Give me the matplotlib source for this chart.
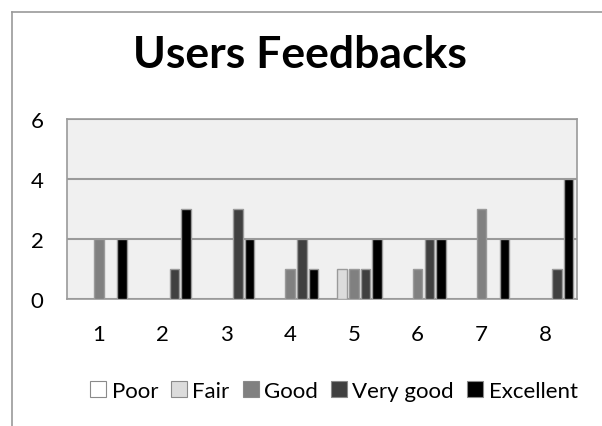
import matplotlib
matplotlib.use("Agg")
import matplotlib.pyplot as plt
import numpy as np
from matplotlib.lines import Line2D

groups = ["1", "2", "3", "4", "5", "6", "7", "8"]
series_names = ["Poor", "Fair", "Good", "Very good", "Excellent"]
poor = [0, 0, 0, 0, 0, 0, 0, 0]
fair = [0, 0, 0, 0, 1, 0, 0, 0]
good = [2, 0, 0, 1, 1, 1, 3, 0]
very_good = [0, 1, 3, 2, 1, 2, 0, 1]
excellent = [2, 3, 2, 1, 2, 2, 2, 4]
colors = ["#FFFFFF", "#DCDCDC", "#808080", "#404040", "#000000"]
yticks = [0, 2, 4, 6]

plt.rcParams['font.family'] = ['Lato', 'DejaVu Sans']

fig = plt.figure(figsize=(6.02, 4.27), dpi=100)
ax = fig.add_axes([67/602, 1-300/427, 510/602, 180/427])
ax.set_facecolor("#F0F0F0")

x = np.arange(1, len(groups) + 1)
pitch = 0.183
width = 0.15
data = [poor, fair, good, very_good, excellent]
for i, (vals, c) in enumerate(zip(data, colors)):
    ax.bar(x + (i - 2) * pitch, vals, width=width, color=c,
           edgecolor="#9A9A9A", linewidth=1.0, zorder=3)

ax.set_xlim(0.5, 8.5)
ax.set_ylim(0, 6)
ax.set_yticks(yticks)
ax.set_yticklabels([str(v) for v in yticks], fontsize=16)
ax.set_xticks(x)
ax.set_xticklabels(groups, fontsize=16)
ax.tick_params(axis='y', length=0, pad=17)
ax.tick_params(axis='x', length=0, pad=18)
ax.yaxis.grid(True, color="#9A9A9A", linewidth=1.5, zorder=0)
ax.set_axisbelow(True)
for s in ax.spines.values():
    s.set_color("#9A9A9A")
    s.set_linewidth(1.2)

fig.text(300/602, 1-55/427, "Users Feedbacks", ha="center", va="center",
         fontsize=32, fontweight="bold")

handles = [plt.Rectangle((0, 0), 1, 1, facecolor=c, edgecolor="#8A8A8A", linewidth=0.8)
           for c in colors]
fig.legend(handles, series_names, loc="center", bbox_to_anchor=(334/602, 1-392/427),
           ncol=5, frameon=False, fontsize=16, handlelength=0.7, handleheight=0.7,
           handletextpad=0.25, columnspacing=0.6, borderpad=0)

# outer chart frame (partially visible: left and top)
fig.add_artist(Line2D([12/602, 12/602], [0, 1-13/427], transform=fig.transFigure,
                      color="#9A9A9A", linewidth=1.2))
fig.add_artist(Line2D([12/602, 1], [1-13/427, 1-13/427], transform=fig.transFigure,
                      color="#9A9A9A", linewidth=1.2))

fig.savefig("out.png", dpi=100)
